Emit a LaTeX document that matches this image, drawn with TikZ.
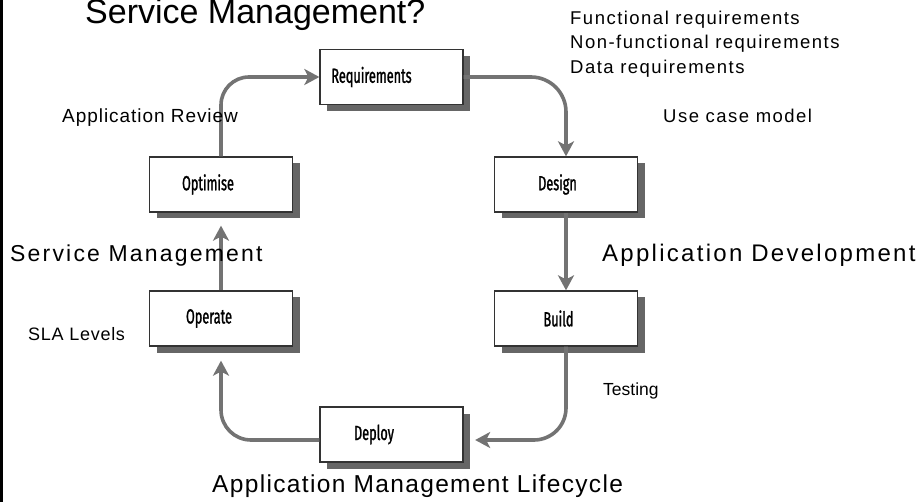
\documentclass[tikz,border=0pt]{standalone}
\usepackage{fontspec}
\setmainfont{Liberation Sans}
\newfontfamily\boxfont[FakeStretch=0.62,FakeBold=1.2]{Fira Sans}
\usetikzlibrary{arrows.meta,shadows}
\begin{document}
\begin{tikzpicture}[x=1pt,y=-1pt,
  stage/.style={draw=black!80, line width=1.3pt, fill=white,
    minimum width=143pt, minimum height=55pt, inner sep=0pt,
    font=\boxfont\fontsize{20.5}{22}\selectfont,
    drop shadow={shadow xshift=7pt, shadow yshift=-6.5pt, fill=black!60, opacity=1}},
  arr/.style={draw=black!55, line width=3.6pt,
    -{Stealth[length=15pt,width=16pt,inset=4pt]}},
  lab/.style={anchor=base west, inner sep=0pt},
  smalllab/.style={lab, font=\fontsize{18.5}{20}\selectfont\addfontfeatures{LetterSpace=8}},
  biglab/.style={lab, font=\fontsize{24}{26}\selectfont\addfontfeatures{LetterSpace=8}}
]
\useasboundingbox (0,0) rectangle (923,502);
\draw[line width=2.5pt] (1.25,0) -- (1.25,502);

% stages
\node[stage] (req) at (391.5,77) {Requirements\hspace*{40pt}};
\node[stage] (des) at (566,184.5) {Design\hspace*{17pt}};
\node[stage] (bld) at (566,318.5) {Build\hspace*{15pt}};
\node[stage] (dep) at (391.5,434.5) {Deploy\hspace*{35pt}};
\node[stage] (op) at (221,318.5) {Operate\hspace*{24pt}};
\node[stage] (opt) at (221,184.5) {Optimise\hspace*{26pt}};

% connector ends
\coordinate (depin) at ([shift={(11.5pt,-5.5pt)}]dep.east);
\coordinate (depout) at ([yshift=-5.5pt]dep.west);
\coordinate (opin) at ([yshift=-14pt]op.south);
\coordinate (optin) at ([yshift=-13pt]opt.south);

% connectors
\draw[arr, rounded corners=28pt] (opt.north) |- (req.west);
\draw[arr, rounded corners=35pt] (req.east) -| (des.north);
\draw[arr] (des.south) -- (bld.north);
\draw[arr, rounded corners=32pt] (bld.south) |- (depin);
\draw[arr, rounded corners=30pt] (depout) -| (opin);
\draw[arr] (op.north) -- (optin);

% labels
\node[lab, font=\fontsize{34}{36}\selectfont] (title) at (85,23.5) {Service Management?};
\node[smalllab] (fr) at (570,25) {Functional requirements};
\node[smalllab] (nfr) at (570,48.5) {Non-functional requirements};
\node[smalllab] (dr) at (570,74) {Data requirements};
\node[smalllab] (ucm) at (663,123) {Use case model};
\node[lab, font=\fontsize{19}{21}\selectfont\addfontfeatures{LetterSpace=5}] (ar) at (62,122.5) {Application Review};
\node[biglab, font=\fontsize{23}{25}\selectfont\addfontfeatures{LetterSpace=9.5}] (sm) at (10,261.5) {Service Management};
\node[lab, font=\fontsize{18}{20}\selectfont\addfontfeatures{LetterSpace=4}] (sla) at (28,341) {SLA Levels};
\node[biglab, font=\fontsize{24}{26}\selectfont\addfontfeatures{LetterSpace=9.5}] (ad) at (602,262) {Application Development};
\node[lab, font=\fontsize{17.5}{19}\selectfont] (test) at (603,395.5) {Testing};
\node[biglab, font=\fontsize{24.5}{26}\selectfont\addfontfeatures{LetterSpace=5.5}] (aml) at (212,492.5) {Application Management Lifecycle};
\end{tikzpicture}
\end{document}
